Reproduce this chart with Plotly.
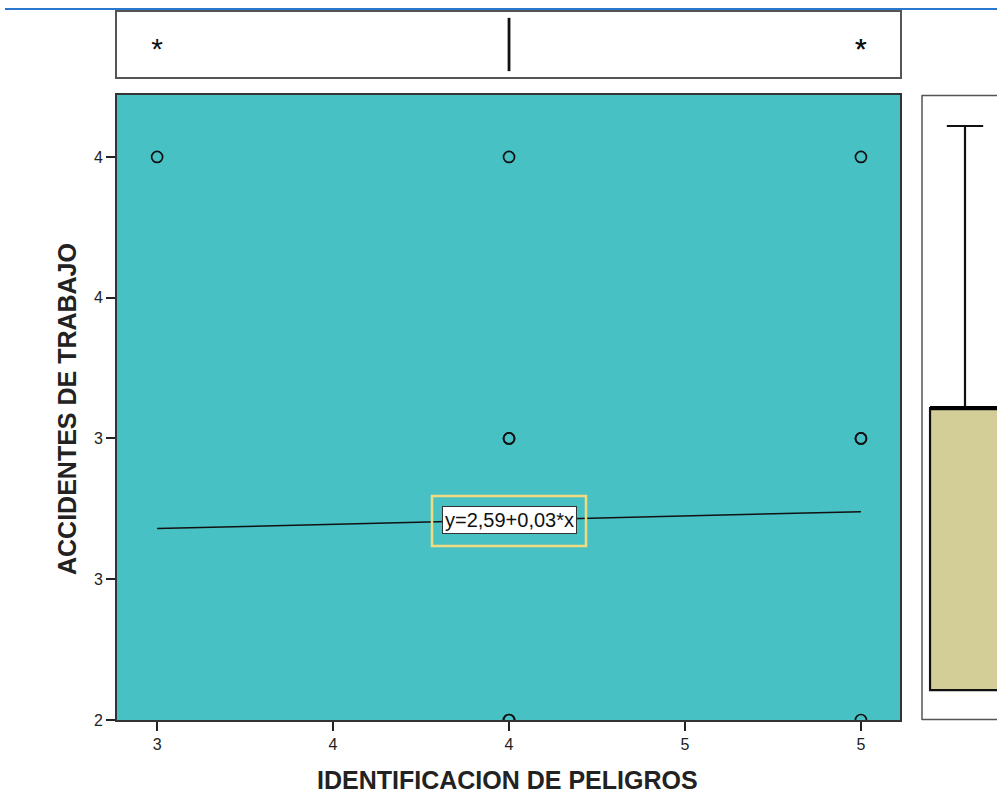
import plotly.graph_objects as go

# ---- data ----
pts_x = [3, 4, 5, 4, 4, 5, 5, 4, 4, 5]
pts_y = [4, 4, 4, 3, 3, 3, 3, 2, 2, 2]
intercept = 2.59
slope = 0.03
fit_x = [3, 5]
eq_label = "y=2,59+0,03*x"

x_tick_vals = [3, 3.5, 4, 4.5, 5]
x_tick_text = ["3", "4", "4", "5", "5"]
y_tick_vals = [2, 2.5, 3, 3.5, 4]
y_tick_text = ["2", "3", "3", "4", "4"]

# top boxplot (x variable)
x_median = 4
x_outliers = [3, 5, 5]
# right boxplot (y variable)
y_q1, y_med, y_q3, y_low, y_high = 2, 3, 3, 2, 4

W, H = 997, 794
OFF = 0  # body margin removed by post_script
def px(v): return (v - OFF) / W
def py(v): return 1 - (v - OFF) / H

teal = "#48C1C5"
fig = go.Figure()

# regression line
fig.add_trace(go.Scatter(x=fit_x, y=[intercept + slope * v for v in fit_x],
                         mode="lines", line=dict(color="#111111", width=1.5),
                         xaxis="x", yaxis="y", hoverinfo="skip"))
# points
fig.add_trace(go.Scatter(x=pts_x, y=pts_y, mode="markers",
                         marker=dict(symbol="circle-open", size=11,
                                     color="#111111", line=dict(width=1.7)),
                         xaxis="x", yaxis="y"))

# top panel: median line and outliers
fig.add_trace(go.Scatter(x=[x_median, x_median], y=[0.09, 0.91], mode="lines",
                         line=dict(color="#111111", width=2.8), xaxis="x2", yaxis="y2"))
fig.add_trace(go.Scatter(x=x_outliers, y=[0.39] * len(x_outliers), mode="text",
                         text=["*"] * len(x_outliers),
                         textposition="middle center",
                         textfont=dict(family="Liberation Sans", size=30, color="#111111"),
                         xaxis="x2", yaxis="y2"))

# right panel boxplot
bc = 0.579
bw = 0.92
fig.add_trace(go.Box(x=[bc], q1=[y_q1], median=[y_med], q3=[y_q3],
                     lowerfence=[y_low], upperfence=[y_high], width=bw,
                     whiskerwidth=0.52, fillcolor="#D3CE98",
                     line=dict(color="#111111", width=2.2),
                     xaxis="x3", yaxis="y3", boxpoints=False))
fig.add_trace(go.Scatter(x=[bc - bw / 2, bc + bw / 2], y=[y_med, y_med], mode="lines",
                         line=dict(color="#000000", width=4), xaxis="x3", yaxis="y3"))

font = dict(family="Liberation Sans, Arial", size=16, color="#222222")
main_xd = [px(117), px(900)]
main_yd = [py(720), py(95)]

fig.update_layout(
    width=W, height=H, showlegend=False, template="none",
    margin=dict(l=0, r=0, t=0, b=0),
    paper_bgcolor="white", plot_bgcolor="white",
    font=font,
    xaxis=dict(domain=main_xd, range=[2.886, 5.111], tickvals=x_tick_vals,
               ticktext=x_tick_text, ticks="outside", ticklen=9, tickwidth=1.5,
               tickcolor="#222222", showgrid=False, zeroline=False,
               showline=True, linecolor="#333333", linewidth=2, mirror=True,
               anchor="y", automargin=False, tickfont=font),
    yaxis=dict(domain=main_yd, range=[2, 4.22], tickvals=y_tick_vals,
               ticktext=y_tick_text, ticks="outside", ticklen=9, tickwidth=1.5,
               tickcolor="#222222", showgrid=False, zeroline=False,
               showline=True, linecolor="#333333", linewidth=2, mirror=True,
               anchor="x", automargin=False, tickfont=font),
    xaxis2=dict(domain=main_xd, range=[2.886, 5.111], showticklabels=False,
                ticks="", showgrid=False, zeroline=False, showline=True,
                linecolor="#555555", linewidth=1.5, mirror=True, anchor="y2"),
    yaxis2=dict(domain=[py(77), py(12)], range=[0, 1], showticklabels=False,
                ticks="", showgrid=False, zeroline=False, showline=True,
                linecolor="#555555", linewidth=1.5, mirror=True, anchor="x2"),
    xaxis3=dict(domain=[px(921), 1.0], range=[0, 1], showticklabels=False,
                ticks="", showgrid=False, zeroline=False, showline=False, anchor="y3"),
    yaxis3=dict(domain=main_yd, range=[1.894, 4.11], showticklabels=False,
                ticks="", showgrid=False, zeroline=False, showline=False, anchor="x3"),
    shapes=[
        # teal background of main panel
        dict(type="rect", xref="paper", yref="paper", x0=main_xd[0], x1=main_xd[1],
             y0=main_yd[0], y1=main_yd[1], fillcolor=teal, line=dict(width=0),
             layer="below"),
        # right panel border (left, top, bottom)
        dict(type="line", xref="paper", yref="paper", x0=px(922), x1=px(922),
             y0=py(720), y1=py(95), line=dict(color="#555555", width=1.5)),
        dict(type="line", xref="paper", yref="paper", x0=px(922), x1=1.0,
             y0=py(95.5), y1=py(95.5), line=dict(color="#555555", width=1.5)),
        dict(type="line", xref="paper", yref="paper", x0=px(922), x1=1.0,
             y0=py(719.5), y1=py(719.5), line=dict(color="#555555", width=1.5)),
        # page blue line at top
        dict(type="line", xref="paper", yref="paper", x0=px(5), x1=1.0,
             y0=py(9), y1=py(9), line=dict(color="#2a77d0", width=2)),
        # yellow highlight around the equation label
        dict(type="rect", xref="paper", yref="paper", x0=px(432), x1=px(586),
             y0=py(546), y1=py(496), line=dict(color="#F2DA80", width=2.5),
             fillcolor="rgba(0,0,0,0)"),
    ],
    annotations=[
        dict(x=4, y=intercept + slope * 4, xref="x", yref="y", text=eq_label,
             xanchor="center", yanchor="middle",
             showarrow=False, bgcolor="white", bordercolor="#333333", borderwidth=1,
             borderpad=2,
             font=dict(family="Liberation Sans", size=20, color="#111111")),
        dict(x=px(508), y=py(780), xref="paper", yref="paper",
             xanchor="center", yanchor="middle",
             text="<b>IDENTIFICACION DE PELIGROS</b>", showarrow=False,
             font=dict(family="Liberation Sans, Arial", size=25, color="#222222")),
        dict(x=px(67), y=py(409), xref="paper", yref="paper", textangle=-90,
             xanchor="center", yanchor="middle",
             text="<b>ACCIDENTES DE TRABAJO</b>", showarrow=False,
             font=dict(family="Liberation Sans, Arial", size=25, color="#222222")),
    ],
)

fig.write_html("out.html", config={"displayModeBar": False},
               post_script="document.body.style.margin='0';document.body.style.overflow='hidden';")
